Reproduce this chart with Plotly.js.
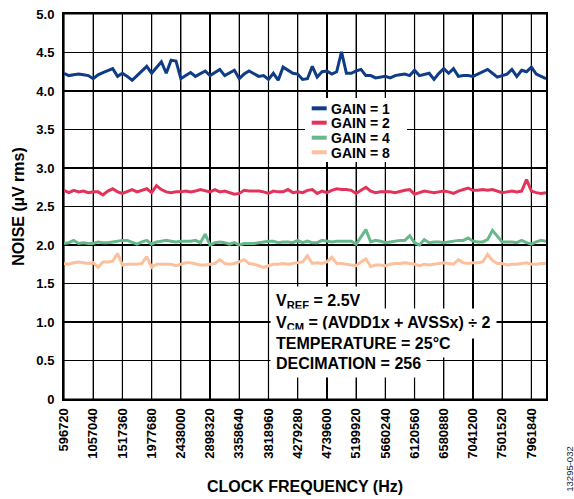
<!DOCTYPE html>
<html>
<head>
<meta charset="utf-8">
<script src="https://cdn.plot.ly/plotly-3.0.1.min.js"></script>
<style>html,body{margin:0;padding:0;background:#fff;}#chart{width:574px;height:499px;}</style>
</head>
<body>
<div id="chart"></div>
<script>
// Clock frequency sampling: first point and step (Hz)
const freqStart = 596720;
const freqStep = 76720;

// Tick labels
const tickFreqs = [596720, 1057040, 1517360, 1977680, 2438000, 2898320, 3358640, 3818960, 4279280,
  4739600, 5199920, 5660240, 6120560, 6580880, 7041200, 7501520, 7961840];
const noiseTicks = [0, 0.5, 1.0, 1.5, 2.0, 2.5, 3.0, 3.5, 4.0, 4.5, 5.0];
const noiseTickText = ["0", "0.5", "1.0", "1.5", "2.0", "2.5", "3.0", "3.5", "4.0", "4.5", "5.0"];

// Noise (µV rms) per gain setting
const gain1 = [4.23, 4.20, 4.21, 4.22, 4.21, 4.20, 4.16, 4.21, 4.24, 4.26,
  4.29, 4.19, 4.23, 4.19, 4.14, 4.20, 4.26, 4.32, 4.23, 4.31,
  4.38, 4.23, 4.40, 4.39, 4.16, 4.20, 4.24, 4.19, 4.23, 4.26,
  4.20, 4.24, 4.28, 4.20, 4.23, 4.27, 4.16, 4.22, 4.26, 4.22,
  4.19, 4.20, 4.15, 4.23, 4.14, 4.31, 4.27, 4.23, 4.22, 4.15,
  4.16, 4.32, 4.18, 4.25, 4.26, 4.22, 4.25, 4.51, 4.23, 4.23,
  4.26, 4.28, 4.20, 4.20, 4.17, 4.18, 4.19, 4.17, 4.20, 4.21,
  4.22, 4.20, 4.27, 4.20, 4.22, 4.23, 4.15, 4.23, 4.29, 4.23,
  4.29, 4.19, 4.20, 4.20, 4.19, 4.22, 4.25, 4.28, 4.23, 4.18,
  4.20, 4.22, 4.28, 4.19, 4.27, 4.25, 4.31, 4.22, 4.19, 4.16];
const gain2 = [2.71, 2.68, 2.71, 2.69, 2.70, 2.68, 2.69, 2.69, 2.65, 2.70,
  2.73, 2.69, 2.67, 2.69, 2.72, 2.69, 2.71, 2.73, 2.68, 2.77,
  2.72, 2.69, 2.68, 2.69, 2.69, 2.70, 2.69, 2.70, 2.72, 2.70,
  2.69, 2.72, 2.69, 2.70, 2.68, 2.66, 2.67, 2.71, 2.70, 2.70,
  2.70, 2.69, 2.67, 2.70, 2.69, 2.69, 2.72, 2.68, 2.69, 2.68,
  2.71, 2.72, 2.67, 2.70, 2.68, 2.71, 2.73, 2.72, 2.72, 2.71,
  2.67, 2.71, 2.75, 2.70, 2.68, 2.69, 2.69, 2.69, 2.68, 2.70,
  2.71, 2.72, 2.66, 2.68, 2.70, 2.69, 2.68, 2.69, 2.70, 2.69,
  2.67, 2.70, 2.72, 2.74, 2.71, 2.71, 2.72, 2.71, 2.72, 2.70,
  2.68, 2.69, 2.70, 2.69, 2.70, 2.85, 2.70, 2.68, 2.67, 2.68];
const gain4 = [2.02, 2.03, 2.06, 2.02, 2.03, 2.02, 2.02, 2.04, 2.03, 2.03,
  2.04, 2.05, 2.06, 2.06, 2.03, 2.01, 2.04, 2.06, 2.01, 2.04,
  2.05, 2.06, 2.05, 2.04, 2.05, 2.05, 2.05, 2.06, 2.03, 2.14,
  2.00, 2.03, 2.04, 2.03, 2.01, 2.03, 2.00, 2.02, 2.02, 2.02,
  2.03, 2.04, 2.05, 2.05, 2.03, 2.04, 2.04, 2.03, 2.06, 2.03,
  2.05, 2.03, 2.03, 2.06, 2.05, 2.04, 2.05, 2.05, 2.05, 2.05,
  2.01, 2.10, 2.20, 2.04, 2.06, 2.05, 2.03, 2.04, 2.05, 2.06,
  2.06, 2.12, 2.03, 2.00, 2.07, 2.03, 2.04, 2.04, 2.03, 2.04,
  2.05, 2.06, 2.06, 2.09, 2.05, 2.04, 2.04, 2.07, 2.19, 2.12,
  2.04, 2.04, 2.04, 2.03, 2.06, 2.03, 2.01, 2.04, 2.06, 2.05];
const gain8 = [1.76, 1.75, 1.77, 1.78, 1.77, 1.76, 1.77, 1.71, 1.78, 1.78,
  1.79, 1.89, 1.74, 1.75, 1.75, 1.75, 1.76, 1.85, 1.71, 1.75,
  1.75, 1.75, 1.75, 1.73, 1.75, 1.77, 1.77, 1.75, 1.74, 1.74,
  1.75, 1.76, 1.81, 1.76, 1.75, 1.76, 1.78, 1.81, 1.76, 1.75,
  1.73, 1.71, 1.73, 1.75, 1.75, 1.76, 1.75, 1.76, 1.77, 1.78,
  1.86, 1.76, 1.77, 1.76, 1.78, 1.84, 1.76, 1.76, 1.75, 1.74,
  1.73, 1.78, 1.82, 1.72, 1.74, 1.74, 1.73, 1.75, 1.76, 1.76,
  1.77, 1.76, 1.75, 1.73, 1.75, 1.74, 1.75, 1.76, 1.77, 1.76,
  1.75, 1.81, 1.77, 1.76, 1.77, 1.77, 1.78, 1.88, 1.80, 1.76,
  1.76, 1.74, 1.75, 1.75, 1.76, 1.77, 1.75, 1.75, 1.76, 1.76];

const seriesNames = ["GAIN = 1", "GAIN = 2", "GAIN = 4", "GAIN = 8"];
const seriesColors = ["#0f3c85", "#e4335a", "#67b88a", "#fdc09c"];
const seriesData = [gain1, gain2, gain4, gain8];

const FONT = 'Arial, "Liberation Sans", Helvetica, sans-serif';

const traces = seriesData.map((vals, i) => ({
  type: 'scatter', mode: 'lines', name: seriesNames[i],
  x0: freqStart, dx: freqStep, y: vals,
  line: {color: seriesColors[i], width: 3},
  showlegend: false, hoverinfo: 'skip'
}));

const shapes = [];
// Grid lines at the axis tick values (drawn under the data)
tickFreqs.forEach(f => shapes.push({type: 'line', xref: 'x', yref: 'paper', x0: f, x1: f, y0: 0, y1: 1,
  line: {color: '#000', width: 1.2}, layer: 'below'}));
noiseTicks.forEach(v => shapes.push({type: 'line', xref: 'paper', yref: 'y', x0: 0, x1: 1, y0: v, y1: v,
  line: {color: '#000', width: 1.2}, layer: 'below'}));

// Custom legend (tight row spacing as in the original)
const legendY = [0.755, 0.7177, 0.6787, 0.6408];
shapes.push({type: 'rect', xref: 'paper', yref: 'paper', x0: 0.500, x1: 0.7116, y0: 0.6156, y1: 0.7818,
  fillcolor: '#fff', line: {width: 0}, layer: 'above'});
const annotations = [];
seriesNames.forEach((nm, i) => {
  shapes.push({type: 'line', xref: 'paper', yref: 'paper', x0: 0.5139, x1: 0.545,
    y0: legendY[i], y1: legendY[i], line: {color: seriesColors[i], width: 4}, layer: 'above'});
  annotations.push({xref: 'paper', yref: 'paper', x: 0.551, y: legendY[i], xanchor: 'left', yanchor: 'middle',
    text: nm, showarrow: false, height: 15, valign: 'middle', borderpad: 0,
    font: {family: FONT, size: 14, weight: 'bold', color: '#000'}});
});

// Conditions text block, each line on its own white box
const notes = ["V<sub>REF</sub> = 2.5V", "V<sub>CM</sub> = (AVDD1x + AVSSx) ÷ 2", "TEMPERATURE = 25°C", "DECIMATION = 256"];
const notesY = [0.252, 0.197, 0.145, 0.091];
notes.forEach((t, i) => {
  annotations.push({xref: 'paper', yref: 'paper', x: 0.4274, y: notesY[i], xanchor: 'left', yanchor: 'middle',
    text: t, showarrow: false, bgcolor: '#fff', borderpad: 5,
    font: {family: FONT, size: 16, weight: 'bold', color: '#000'}});
});
annotations.push({xref: 'paper', yref: 'paper', x: 1.047, y: -0.182, xanchor: 'center', yanchor: 'middle',
  text: '13295-032', textangle: -90, showarrow: false, font: {family: FONT, size: 9.5, color: '#222'}});

const axisCommon = {
  showgrid: true, gridcolor: '#000', gridwidth: 1.2,
  showline: true, linecolor: '#000', linewidth: 2, mirror: true,
  zeroline: false, ticks: '', fixedrange: true,
  tickfont: {family: FONT, size: 13, weight: 'bold', color: '#000'}
};

const layout = {
  width: 574, height: 499,
  margin: {l: 64, r: 28, t: 14, b: 100, pad: 0},
  paper_bgcolor: '#fff', plot_bgcolor: 'rgba(0,0,0,0)',
  showlegend: false,
  font: {family: FONT, color: '#000'},
  xaxis: Object.assign({}, axisCommon, {
    range: [freqStart, freqStart + 99 * freqStep],
    tickmode: 'array', tickvals: tickFreqs, ticktext: tickFreqs.map(String), tickangle: -90,
    ticklabelstandoff: 2,
    title: {text: 'CLOCK FREQUENCY (Hz)', font: {family: FONT, size: 16, weight: 'bold', color: '#000'}, standoff: 23}
  }),
  yaxis: Object.assign({}, axisCommon, {
    range: [0, 5],
    tickmode: 'array', tickvals: noiseTicks, ticktext: noiseTickText,
    ticklabelstandoff: 5,
    title: {text: 'NOISE (µV rms)', font: {family: FONT, size: 16, weight: 'bold', color: '#000'}, standoff: 8}
  }),
  shapes: shapes,
  annotations: annotations
};

Plotly.newPlot('chart', traces, layout, {displayModeBar: false, staticPlot: true});
</script>
</body>
</html>
